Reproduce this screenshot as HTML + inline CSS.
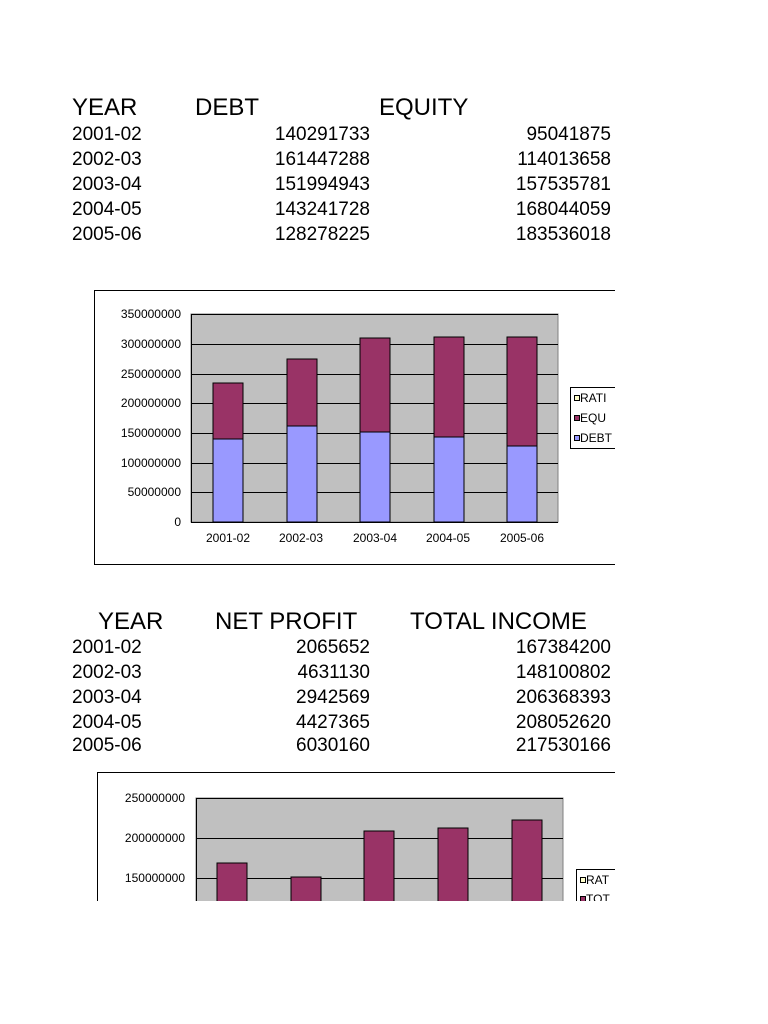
<!DOCTYPE html>
<html><head><style>
body{margin:0;width:768px;height:1024px;background:#fff;position:relative;overflow:hidden;font-family:"Liberation Sans",Arial,sans-serif;color:#000}
.t{position:absolute;white-space:nowrap;line-height:1}
.h{font-size:24px}
.r{font-size:19px}
.ra{text-align:right}
</style></head><body>
<div class="t h" style="left:72px;top:96px">YEAR</div>
<div class="t h" style="left:195px;top:96px">DEBT</div>
<div class="t h" style="left:379px;top:96px">EQUITY</div>

<div class="t r" style="left:72px;top:125px">2001-02</div><div class="t r ra" style="right:398px;top:125px">140291733</div><div class="t r ra" style="right:157px;top:125px">95041875</div>
<div class="t r" style="left:72px;top:150px">2002-03</div><div class="t r ra" style="right:398px;top:150px">161447288</div><div class="t r ra" style="right:157px;top:150px">114013658</div>
<div class="t r" style="left:72px;top:175px">2003-04</div><div class="t r ra" style="right:398px;top:175px">151994943</div><div class="t r ra" style="right:157px;top:175px">157535781</div>
<div class="t r" style="left:72px;top:200px">2004-05</div><div class="t r ra" style="right:398px;top:200px">143241728</div><div class="t r ra" style="right:157px;top:200px">168044059</div>
<div class="t r" style="left:72px;top:225px">2005-06</div><div class="t r ra" style="right:398px;top:225px">128278225</div><div class="t r ra" style="right:157px;top:225px">183536018</div>

<svg style="position:absolute;left:0;top:0" width="768" height="1024" font-family="Liberation Sans, Arial, sans-serif">
<rect x="94.5" y="290.5" width="540" height="274" fill="#fff" stroke="#000"/>
<rect x="615" y="285" width="153" height="290" fill="#fff"/>
<rect x="191" y="314" width="367" height="208" fill="#c0c0c0" stroke="#808080"/>
<g stroke="#000" stroke-width="1">
<line x1="191" y1="314.5" x2="558" y2="314.5"/><line x1="191" y1="344.5" x2="558" y2="344.5"/><line x1="191" y1="374.5" x2="558" y2="374.5"/><line x1="191" y1="403.5" x2="558" y2="403.5"/><line x1="191" y1="433.5" x2="558" y2="433.5"/><line x1="191" y1="463.5" x2="558" y2="463.5"/><line x1="191" y1="492.5" x2="558" y2="492.5"/>
<line x1="191" y1="522.5" x2="558" y2="522.5"/><line x1="191.5" y1="314" x2="191.5" y2="522"/>
</g>
<g stroke="#000">
<rect x="213" y="439" width="30" height="83" fill="#9999ff"/><rect x="213" y="383" width="30" height="56" fill="#993366"/>
<rect x="287" y="426" width="30" height="96" fill="#9999ff"/><rect x="287" y="359" width="30" height="67" fill="#993366"/>
<rect x="360" y="432" width="30" height="90" fill="#9999ff"/><rect x="360" y="338" width="30" height="94" fill="#993366"/>
<rect x="434" y="437" width="30" height="85" fill="#9999ff"/><rect x="434" y="337" width="30" height="100" fill="#993366"/>
<rect x="507" y="446" width="30" height="76" fill="#9999ff"/><rect x="507" y="337" width="30" height="109" fill="#993366"/>
</g>
<g font-size="12" text-anchor="end">
<text x="181" y="318">350000000</text><text x="181" y="348">300000000</text><text x="181" y="378">250000000</text><text x="181" y="407">200000000</text><text x="181" y="437">150000000</text><text x="181" y="467">100000000</text><text x="181" y="496">50000000</text><text x="181" y="526">0</text>
</g>
<g font-size="12" text-anchor="middle">
<text x="228" y="542">2001-02</text><text x="301" y="542">2002-03</text><text x="375" y="542">2003-04</text><text x="448" y="542">2004-05</text><text x="522" y="542">2005-06</text>
</g>
<rect x="570.5" y="387.5" width="60" height="61" fill="#fff" stroke="#000"/>
<g font-size="12"><rect x="574.5" y="395.5" width="5" height="5" fill="#ffffcc" stroke="#000"/><text x="580" y="402">RATI</text>
<rect x="574.5" y="415.5" width="5" height="5" fill="#993366" stroke="#000"/><text x="580" y="422">EQU</text>
<rect x="574.5" y="435.5" width="5" height="5" fill="#9999ff" stroke="#000"/><text x="580" y="442">DEBT</text></g>
<rect x="615" y="380" width="153" height="80" fill="#fff"/>

<rect x="97.5" y="772.5" width="540" height="200" fill="#fff" stroke="#000"/>
<rect x="196" y="798" width="367" height="120" fill="#c0c0c0" stroke="#808080"/>
<g stroke="#000"><line x1="196" y1="798.5" x2="563" y2="798.5"/><line x1="196" y1="838.5" x2="563" y2="838.5"/><line x1="196" y1="878.5" x2="563" y2="878.5"/><line x1="196.5" y1="798" x2="196.5" y2="918"/></g>
<g stroke="#000" fill="#993366">
<rect x="217" y="863" width="30" height="60"/><rect x="291" y="877" width="30" height="50"/><rect x="364" y="831" width="30" height="90"/><rect x="438" y="828" width="30" height="90"/><rect x="512" y="820" width="30" height="100"/>
</g>
<g font-size="12" text-anchor="end"><text x="185" y="802">250000000</text><text x="185" y="842">200000000</text><text x="185" y="882">150000000</text></g>
<rect x="576.5" y="869.5" width="60" height="60" fill="#fff" stroke="#000"/>
<g font-size="12"><rect x="580.5" y="877.5" width="5" height="5" fill="#ffffcc" stroke="#000"/><text x="586" y="884">RAT</text>
<rect x="580.5" y="896.5" width="5" height="5" fill="#993366" stroke="#000"/><text x="586" y="903">TOT</text></g>
<rect x="615" y="760" width="153" height="150" fill="#fff"/>
<rect x="0" y="901" width="768" height="123" fill="#fff"/>
</svg>

<div class="t h" style="left:98px;top:610px">YEAR</div>
<div class="t h" style="left:215px;top:610px">NET PROFIT</div>
<div class="t h" style="left:410px;top:610px">TOTAL INCOME</div>
<div class="t r" style="left:72px;top:638px">2001-02</div><div class="t r ra" style="right:398px;top:638px">2065652</div><div class="t r ra" style="right:157px;top:638px">167384200</div>
<div class="t r" style="left:72px;top:663px">2002-03</div><div class="t r ra" style="right:398px;top:663px">4631130</div><div class="t r ra" style="right:157px;top:663px">148100802</div>
<div class="t r" style="left:72px;top:688px">2003-04</div><div class="t r ra" style="right:398px;top:688px">2942569</div><div class="t r ra" style="right:157px;top:688px">206368393</div>
<div class="t r" style="left:72px;top:713px">2004-05</div><div class="t r ra" style="right:398px;top:713px">4427365</div><div class="t r ra" style="right:157px;top:713px">208052620</div>
<div class="t r" style="left:72px;top:736px">2005-06</div><div class="t r ra" style="right:398px;top:736px">6030160</div><div class="t r ra" style="right:157px;top:736px">217530166</div>
</body></html>
